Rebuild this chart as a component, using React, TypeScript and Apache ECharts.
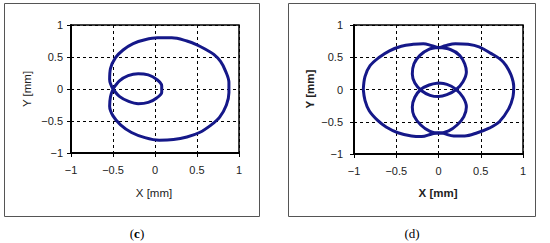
import React, { useEffect, useRef } from "react";
import * as echarts from "echarts";

// Tick labels (shared by both panels, both axes)
const tickValues = [-1, -0.5, 0, 0.5, 1];
const tickLabels = ["\u22121", "\u22120.5", "0", "0.5", "1"];

// Panel (c): outer loop and inner loop [x, y] in mm
const cOuterLoop: number[][] = [
  [-0.5, 0], [-0.54, 0.15], [-0.53, 0.32], [-0.47, 0.49], [-0.38, 0.61],
  [-0.26, 0.71], [-0.12, 0.77], [0.03, 0.8], [0.2, 0.8], [0.38, 0.75],
  [0.5, 0.69], [0.6, 0.62], [0.7, 0.54], [0.78, 0.43], [0.84, 0.28],
  [0.88, 0.1], [0.88, -0.06], [0.85, -0.25], [0.77, -0.44], [0.67, -0.56],
  [0.53, -0.68], [0.38, -0.75], [0.22, -0.79], [0.05, -0.8], [-0.12, -0.76],
  [-0.28, -0.68], [-0.41, -0.56], [-0.5, -0.42], [-0.54, -0.27], [-0.53, -0.12],
  [-0.5, 0],
];
const cInnerLoop: number[][] = [
  [-0.5, 0], [-0.42, 0.13], [-0.32, 0.21], [-0.2, 0.24], [-0.08, 0.22],
  [0.02, 0.15], [0.08, 0.05], [0.08, -0.05], [0.02, -0.14], [-0.08, -0.21],
  [-0.2, -0.23], [-0.32, -0.19], [-0.42, -0.12], [-0.5, 0],
];

// Panel (d): outer loop, upper inner loop, lower inner loop [x, y] in mm
const dOuterLoop: number[][] = [
  [-0.89, 0], [-0.87, 0.2], [-0.81, 0.37], [-0.7, 0.5], [-0.58, 0.6],
  [-0.44, 0.67], [-0.3, 0.7], [-0.18, 0.71], [-0.08, 0.68], [0, 0.65],
  [0.08, 0.68], [0.2, 0.71], [0.35, 0.7], [0.48, 0.66], [0.62, 0.56],
  [0.74, 0.46], [0.8, 0.37], [0.86, 0.22], [0.89, 0.05], [0.88, -0.12],
  [0.83, -0.3], [0.72, -0.5], [0.6, -0.6], [0.46, -0.67], [0.31, -0.72],
  [0.18, -0.72], [0.06, -0.68], [0, -0.67], [-0.08, -0.69], [-0.2, -0.73],
  [-0.32, -0.72], [-0.48, -0.67], [-0.62, -0.58], [-0.72, -0.48], [-0.82, -0.33],
  [-0.87, -0.17], [-0.89, 0],
];
const dUpperLoop: number[][] = [
  [0, 0.65], [0.14, 0.62], [0.25, 0.53], [0.31, 0.4], [0.33, 0.27],
  [0.29, 0.12], [0.21, 0.0], [0.1, -0.08], [0, -0.11], [-0.1, -0.09],
  [-0.2, -0.02], [-0.28, 0.1], [-0.31, 0.24], [-0.29, 0.4], [-0.22, 0.53],
  [-0.12, 0.62], [0, 0.65],
];
const dLowerLoop: number[][] = [
  [0, 0.1], [0.1, 0.08], [0.2, 0.01], [0.29, -0.12], [0.33, -0.27],
  [0.3, -0.42], [0.22, -0.55], [0.12, -0.64], [0, -0.68], [-0.1, -0.65],
  [-0.21, -0.55], [-0.29, -0.41], [-0.31, -0.27], [-0.28, -0.12], [-0.21, 0.0],
  [-0.11, 0.07], [0, 0.1],
];

const LINE_COLOR = "#151889";
const FONT = "Arial, 'Liberation Sans', sans-serif";

function fmt(v: number) {
  const i = tickValues.indexOf(Number(v.toFixed(2)));
  return i >= 0 ? tickLabels[i] : String(v);
}

function axisBase(gridIndex: number, margin: number) {
  return {
    type: "value",
    gridIndex,
    min: -1,
    max: 1,
    interval: 0.5,
    axisLine: { show: true, onZero: false, lineStyle: { color: "#000", width: 2 } },
    axisTick: { show: true, inside: false, length: 4, lineStyle: { color: "#000", width: 1 } },
    axisLabel: { show: true, margin, color: "#222", fontSize: 11, fontFamily: FONT, formatter: fmt },
    splitLine: { show: true, lineStyle: { color: "#000", width: 1, type: [3, 3] } },
  };
}

function loopSeries(data: number[][], idx: number) {
  return {
    type: "line",
    xAxisIndex: idx,
    yAxisIndex: idx,
    data,
    showSymbol: false,
    smooth: 0.35,
    lineStyle: { color: LINE_COLOR, width: 3 },
    silent: true,
  };
}

export default function App() {
  const ref = useRef<HTMLDivElement>(null);
  useEffect(() => {
    if (!ref.current) return;
    const chart = echarts.init(ref.current, null, { renderer: "svg" });
    chart.setOption({
      animation: false,
      backgroundColor: "#fff",
      grid: [
        { left: 71, top: 25, width: 168, height: 128, show: true, borderColor: "#000", borderWidth: 1.5, backgroundColor: "transparent" },
        { left: 354, top: 25, width: 169, height: 129, show: true, borderColor: "#000", borderWidth: 1.5, backgroundColor: "transparent" },
      ],
      xAxis: [axisBase(0, 11), axisBase(1, 11)],
      yAxis: [axisBase(0, 8), axisBase(1, 11)],
      series: [
        loopSeries(cOuterLoop, 0),
        loopSeries(cInnerLoop, 0),
        loopSeries(dOuterLoop, 1),
        loopSeries(dUpperLoop, 1),
        loopSeries(dLowerLoop, 1),
      ],
      graphic: [
        { type: "rect", shape: { x: 4.5, y: 3.5, width: 255, height: 213 }, style: { fill: "none", stroke: "#555", lineWidth: 1 } },
        { type: "rect", shape: { x: 288.5, y: 3.5, width: 247, height: 213 }, style: { fill: "none", stroke: "#555", lineWidth: 1 } },
        { type: "text", x: 154, y: 193, style: { text: "X [mm]", font: `11.5px ${FONT}`, fill: "#222", align: "center", verticalAlign: "middle" } },
        { type: "text", x: 27, y: 89, rotation: Math.PI / 2, style: { text: "Y [mm]", font: `11.5px ${FONT}`, fill: "#222", align: "center", verticalAlign: "middle" } },
        { type: "text", x: 438, y: 193, style: { text: "X [mm]", font: `bold 11.5px ${FONT}`, fill: "#222", align: "center", verticalAlign: "middle" } },
        { type: "text", x: 310, y: 89, rotation: Math.PI / 2, style: { text: "Y [mm]", font: `bold 11.5px ${FONT}`, fill: "#222", align: "center", verticalAlign: "middle" } },
        {
          type: "text", x: 137, y: 233,
          style: {
            text: "{a|(}{b|c}{a|)}", align: "center", verticalAlign: "middle",
            rich: {
              a: { fontFamily: "'Liberation Serif', 'DejaVu Serif', serif", fontSize: 13, fill: "#000" },
              b: { fontFamily: "'Liberation Serif', 'DejaVu Serif', serif", fontSize: 13, fontWeight: "bold", fill: "#000" },
            },
          },
        },
        {
          type: "text", x: 412, y: 233,
          style: {
            text: "{a|(}{b|d}{a|)}", align: "center", verticalAlign: "middle",
            rich: {
              a: { fontFamily: "'Liberation Serif', 'DejaVu Serif', serif", fontSize: 13, fill: "#000" },
              b: { fontFamily: "'Liberation Serif', 'DejaVu Serif', serif", fontSize: 13, fill: "#000" },
            },
          },
        },
      ],
    });
    return () => chart.dispose();
  }, []);
  return (
    <div
      ref={ref}
      style={{ position: "fixed", left: 0, top: 0, width: 550, height: 243, background: "#fff" }}
    />
  );
}
